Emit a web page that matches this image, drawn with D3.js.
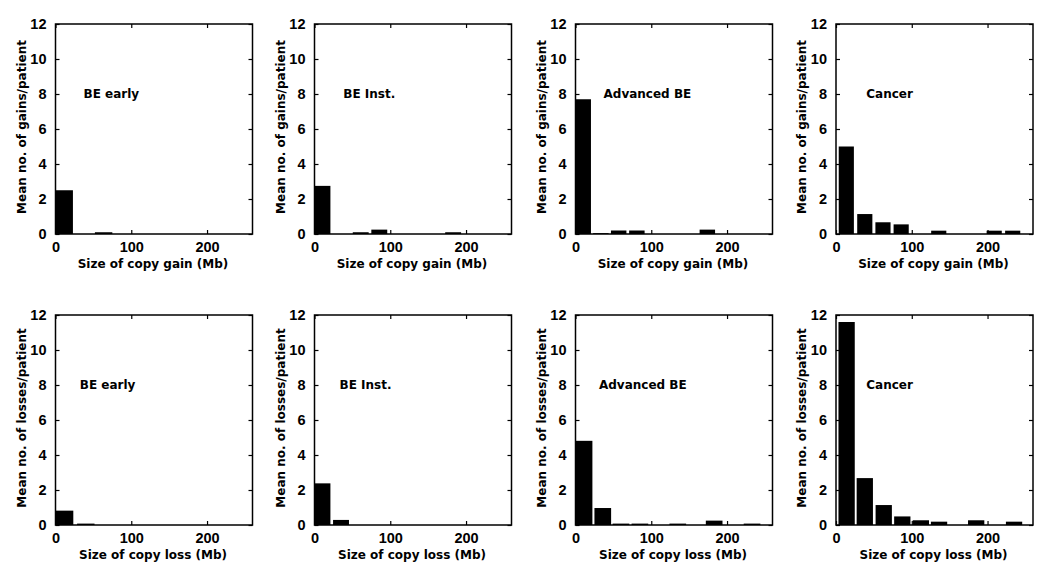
<!DOCTYPE html>
<meta charset="utf-8">
<title>Copy number change size histograms</title>
<style>
body { margin: 0; background: #fff; }
text { font-family: "Liberation Sans", Arial, sans-serif; font-weight: bold; fill: #000; }
.axis path { display: none; }
.axis line { stroke: #000; stroke-width: 1.2; }
.axis text { font-size: 14.5px; }
.title { font-family: "DejaVu Sans", sans-serif; font-size: 12px; }
.frame { fill: none; stroke: #000; stroke-width: 1.5; }
.bar { fill: #000; }
</style>
<body>
<script src="https://d3js.org/d3.v7.min.js"></script>
<script>

// stages shown in the four columns
var stages = ["BE early", "BE Inst.", "Advanced BE", "Cancer"];

// histogram bin centres (Mb) and mean counts per patient
var gainBins = [
  [11.5, 63.5],
  [10.5, 61, 85.5, 183],
  [10.2, 33.5, 57, 81, 174],
  [13.6, 38, 62, 86, 135.6, 208.8, 233.2]
];
var gainMeans = [
  [2.5, 0.1],
  [2.75, 0.1, 0.25, 0.1],
  [7.7, 0.05, 0.2, 0.2, 0.25],
  [5.0, 1.14, 0.67, 0.55, 0.19, 0.19, 0.19]
];
var gainBinWidth = [23, 21, 20.4, 20];

var lossBins = [
  [12, 40],
  [10.5, 35],
  [11.3, 36, 60, 85, 135, 183, 233],
  [14, 38, 63, 87.5, 112, 136, 185, 235]
];
var lossMeans = [
  [0.82, 0.08],
  [2.38, 0.29],
  [4.81, 0.97, 0.08, 0.08, 0.08, 0.25, 0.08],
  [11.6, 2.68, 1.14, 0.49, 0.27, 0.19, 0.27, 0.19]
];
var lossBinWidth = [23, 21, 22, 21.5];

var xTicks = [0, 100, 200];
var yTicks = [0, 2, 4, 6, 8, 10, 12];

var rows = [
  { bins: gainBins, means: gainMeans, widths: gainBinWidth,
    ylabel: "Mean no. of gains/patient", xlabel: "Size of copy gain (Mb)", top: 24, labelPos: [37, 38, 37, 40] },
  { bins: lossBins, means: lossMeans, widths: lossBinWidth,
    ylabel: "Mean no. of losses/patient", xlabel: "Size of copy loss (Mb)", top: 315, labelPos: [32, 33, 31, 40] }
];

// panel geometry
var lefts = [55.5, 314.5, 575.5, 836],
    pw = 197,
    ph = 210;

var svg = d3.select("body").append("svg")
    .attr("width", 1050)
    .attr("height", 581);

var x = d3.scaleLinear().domain([0, 260]).range([0, pw]);
var y = d3.scaleLinear().domain([0, 12]).range([ph, 0]);

rows.forEach(function(row, ri) {
  stages.forEach(function(stage, si) {
    var g = svg.append("g")
        .attr("transform", "translate(" + lefts[si] + "," + row.top + ")");

    var clipId = "clip" + ri + "_" + si;
    g.append("clipPath").attr("id", clipId)
      .append("rect").attr("width", pw).attr("height", ph);

    var data = row.bins[si].map(function(c, i) { return { c: c, v: row.means[si][i] }; });
    var w = row.widths[si];

    // bars
    g.append("g").attr("clip-path", "url(#" + clipId + ")")
      .selectAll("rect")
      .data(data)
      .enter().append("rect")
        .attr("class", "bar")
        .attr("x", function(d) { return x(d.c - w / 2); })
        .attr("width", function(d) { return x(d.c + w / 2) - x(d.c - w / 2); })
        .attr("y", function(d) { return y(d.v); })
        .attr("height", function(d) { return ph - y(d.v); });

    // axes, ticks pointing inwards like matlab
    g.append("g").attr("class", "axis")
        .call(d3.axisLeft(y).tickValues(yTicks).tickSizeInner(-4).tickSizeOuter(0).tickPadding(9));
    g.append("g").attr("class", "axis")
        .attr("transform", "translate(" + pw + ",0)")
        .call(d3.axisRight(y).tickValues(yTicks).tickSizeInner(-4).tickSizeOuter(0).tickFormat(""));
    g.append("g").attr("class", "axis")
        .attr("transform", "translate(0," + ph + ")")
        .call(d3.axisBottom(x).tickValues(xTicks).tickSizeInner(-4).tickSizeOuter(0).tickPadding(8));
    g.append("g").attr("class", "axis")
        .call(d3.axisTop(x).tickValues(xTicks).tickSizeInner(-4).tickSizeOuter(0).tickFormat(""));

    g.append("rect").attr("class", "frame")
        .attr("width", pw).attr("height", ph);

    // stage label
    g.append("text")
        .attr("class", "title")
        .attr("x", x(row.labelPos[si]))
        .attr("y", y(8))
        .attr("dy", "0.35em")
        .text(stage);

    // axis titles
    g.append("text")
        .attr("class", "title")
        .attr("x", pw / 2 - 1)
        .attr("y", ph + 34)
        .attr("text-anchor", "middle")
        .text(row.xlabel);

    g.append("text")
        .attr("class", "title")
        .attr("transform", "translate(-30," + (ph / 2 - 2) + ") rotate(-90)")
        .attr("text-anchor", "middle")
        .text(row.ylabel);
  });
});

</script>
</body>
